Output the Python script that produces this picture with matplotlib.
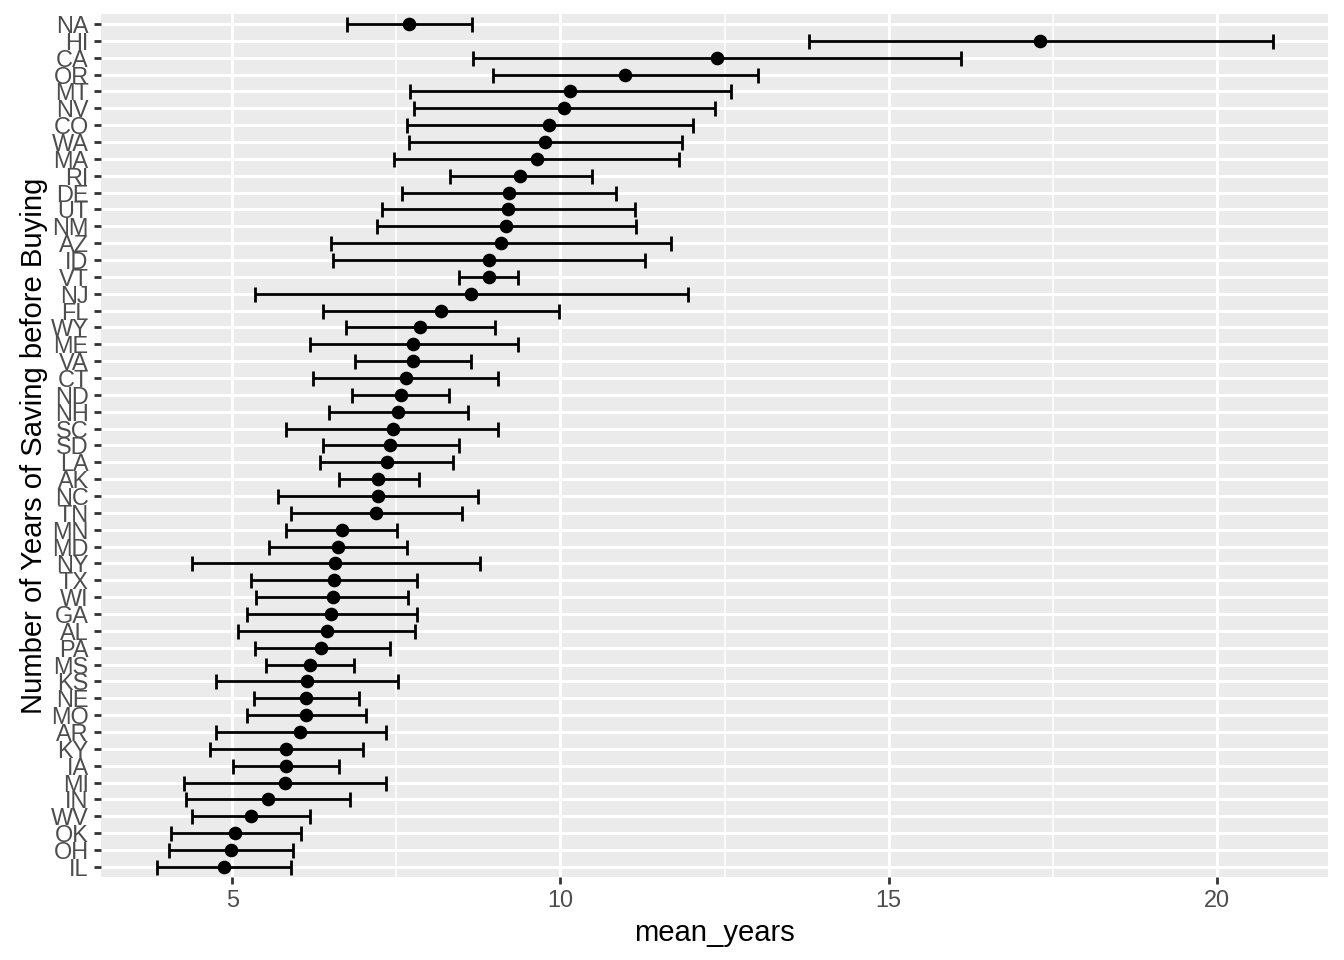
import numpy as np
import matplotlib
matplotlib.use("Agg")
from matplotlib import pyplot as plt
from matplotlib.ticker import MultipleLocator

plt.rcParams['font.family'] = ['Liberation Sans', 'DejaVu Sans']

states = ['NA', 'HI', 'CA', 'OR', 'MT', 'NV', 'CO', 'WA', 'MA', 'RI', 'DE', 'UT', 'NM',
          'AZ', 'ID', 'VT', 'NJ', 'FL', 'WY', 'ME', 'VA', 'CT', 'ND', 'NH', 'SC', 'SD',
          'LA', 'AK', 'NC', 'TN', 'MN', 'MD', 'NY', 'TX', 'WI', 'GA', 'AL', 'PA', 'MS',
          'KS', 'NE', 'MO', 'AR', 'KY', 'IA', 'MI', 'IN', 'WV', 'OK', 'OH', 'IL']

mean_years = [7.70, 17.31, 12.38, 10.99, 10.15, 10.05, 9.83, 9.77, 9.64, 9.39, 9.21, 9.20, 9.17,
              9.09, 8.91, 8.91, 8.64, 8.18, 7.86, 7.76, 7.76, 7.64, 7.57, 7.52, 7.45, 7.41,
              7.36, 7.22, 7.22, 7.19, 6.68, 6.61, 6.57, 6.55, 6.53, 6.51, 6.44, 6.36, 6.19,
              6.14, 6.13, 6.13, 6.04, 5.82, 5.82, 5.81, 5.55, 5.29, 5.05, 4.98, 4.87]

lower = [6.75, 13.78, 8.67, 8.97, 7.71, 7.77, 7.66, 7.70, 7.47, 8.32, 7.59, 7.28, 7.21,
         6.50, 6.53, 8.45, 5.35, 6.38, 6.73, 6.18, 6.87, 6.23, 6.83, 6.47, 5.82, 6.38,
         6.33, 6.63, 5.70, 5.89, 5.82, 5.56, 4.39, 5.29, 5.36, 5.22, 5.09, 5.34, 5.52,
         4.76, 5.33, 5.22, 4.75, 4.66, 5.01, 4.27, 4.30, 4.39, 4.07, 4.03, 3.85]

upper = [8.66, 20.85, 16.10, 13.01, 12.60, 12.36, 12.02, 11.85, 11.81, 10.48, 10.85, 11.13, 11.15,
         11.69, 11.29, 9.36, 11.94, 9.98, 9.01, 9.35, 8.64, 9.05, 8.30, 8.59, 9.05, 8.45,
         8.36, 7.84, 8.74, 8.50, 7.51, 7.66, 8.78, 7.82, 7.68, 7.82, 7.78, 7.41, 6.86,
         7.52, 6.93, 7.04, 7.34, 6.99, 6.63, 7.35, 6.79, 6.19, 6.05, 5.93, 5.89]

mean_arr = np.array(mean_years)
err = [mean_arr - np.array(lower), np.array(upper) - mean_arr]

fig = plt.figure(figsize=(13.44, 9.6), dpi=100)
ax = fig.add_axes([0.0751, 0.0865, 0.9133, 0.899])
ax.set_facecolor('#EBEBEB')

ax.errorbar(mean_years, states, xerr=err, fmt='o', color='black', ms=8.8,
            elinewidth=2.0, capsize=5.4, capthick=2.0, zorder=3)

# ggplot-like scales
lo, hi = min(lower), max(upper)
pad = 0.05 * (hi - lo)
ax.set_xlim(lo - pad, hi + pad)
ax.set_ylim(len(states) - 0.4, -0.6)

ax.xaxis.set_major_locator(MultipleLocator(5))
ax.xaxis.set_minor_locator(MultipleLocator(2.5))
ax.grid(which='major', color='white', linewidth=2.2, zorder=0)
ax.grid(which='minor', axis='x', color='white', linewidth=1.1, zorder=0)
ax.set_axisbelow(True)

for s in ax.spines.values():
    s.set_visible(False)

ax.tick_params(which='major', length=5.3, width=2.0, color='#333333',
               labelsize=16.9, labelcolor='#4D4D4D', pad=3.5)
ax.tick_params(which='minor', length=0)

ax.set_xlabel('mean_years', fontsize=21.1, color='black', labelpad=5)
ax.set_ylabel('Number of Years of Saving before Buying', fontsize=21.1, color='black', labelpad=2)

fig.savefig('out.png', dpi=100)
